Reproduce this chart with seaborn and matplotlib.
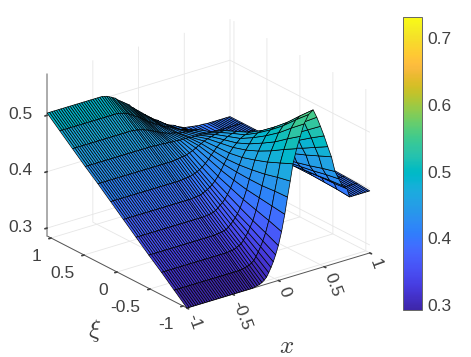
import numpy as np
import matplotlib
matplotlib.use("Agg")
import matplotlib.pyplot as plt
from matplotlib import cm
from matplotlib.colors import Normalize
import seaborn as sns

parula = [
 (0.2422,0.1504,0.6603),(0.2504,0.1650,0.7076),(0.2578,0.1818,0.7511),(0.2647,0.1978,0.7952),
 (0.2706,0.2147,0.8364),(0.2751,0.2342,0.8710),(0.2783,0.2559,0.8991),(0.2803,0.2782,0.9221),
 (0.2813,0.3006,0.9414),(0.2810,0.3228,0.9579),(0.2795,0.3447,0.9717),(0.2760,0.3667,0.9829),
 (0.2699,0.3892,0.9906),(0.2602,0.4123,0.9952),(0.2440,0.4358,0.9988),(0.2206,0.4603,0.9973),
 (0.1963,0.4847,0.9892),(0.1834,0.5074,0.9798),(0.1786,0.5289,0.9682),(0.1764,0.5499,0.9520),
 (0.1687,0.5703,0.9359),(0.1540,0.5902,0.9218),(0.1460,0.6091,0.9079),(0.1380,0.6276,0.8973),
 (0.1248,0.6459,0.8883),(0.1113,0.6635,0.8763),(0.0952,0.6798,0.8598),(0.0689,0.6948,0.8394),
 (0.0297,0.7082,0.8163),(0.0036,0.7203,0.7917),(0.0067,0.7312,0.7660),(0.0433,0.7411,0.7394),
 (0.0964,0.7500,0.7120),(0.1408,0.7584,0.6842),(0.1717,0.7670,0.6554),(0.1938,0.7758,0.6251),
 (0.2161,0.7843,0.5923),(0.2470,0.7918,0.5567),(0.2906,0.7973,0.5188),(0.3406,0.8008,0.4789),
 (0.3909,0.8029,0.4354),(0.4456,0.8024,0.3909),(0.5044,0.7993,0.3480),(0.5616,0.7942,0.3045),
 (0.6174,0.7876,0.2612),(0.6720,0.7793,0.2227),(0.7242,0.7698,0.1910),(0.7738,0.7598,0.1646),
 (0.8203,0.7498,0.1535),(0.8634,0.7406,0.1596),(0.9035,0.7330,0.1774),(0.9393,0.7288,0.2100),
 (0.9728,0.7298,0.2394),(0.9956,0.7434,0.2371),(0.9970,0.7659,0.2199),(0.9952,0.7893,0.2028),
 (0.9892,0.8136,0.1885),(0.9786,0.8386,0.1766),(0.9676,0.8639,0.1643),(0.9610,0.8890,0.1537),
 (0.9597,0.9135,0.1423),(0.9628,0.9373,0.1265),(0.9691,0.9606,0.1064),(0.9769,0.9839,0.0805)]

xi = [-1.06,-0.867,-0.675,-0.482,-0.289,-0.096,0.096,0.289,0.482,0.675,0.867,1.06]

x_left = [-1.0,-0.975,-0.95,-0.925,-0.9,-0.875,-0.85,-0.825,-0.8,-0.775,-0.75,-0.725,-0.7,
          -0.675,-0.65,-0.625,-0.6,-0.575,-0.55,-0.525,-0.5,-0.475,-0.45,-0.425,-0.4]
x_mid = [-0.375,-0.35,-0.325,-0.30,-0.28,-0.255,-0.23,-0.205,-0.18,-0.155,-0.13,-0.105,-0.08,-0.055,-0.03,0.0,
         0.035,0.07,0.10,0.13,0.16,0.20,0.24,0.28,0.33,0.38,0.42,0.46,0.50,0.54,0.58,0.62,0.66,0.70,0.75]
x_right = [0.78,0.805,0.83,0.855,0.88,0.905,0.93,0.955,0.98,1.0]

z_left = [0.286,0.306,0.326,0.345,0.365,0.385,0.405,0.425,0.444,0.464,0.484,0.504]
z_right = [0.396,0.398,0.399,0.400,0.400,0.400,0.400,0.400,0.400,0.400,0.400,0.400]
z_mid = [
 [.286,.286,.286,.286,.286,.287,.288,.289,.291,.294,.298,.305,.313,.322,.333,.348,.371,.400,.429,.456,.485,.510,.530,.550,.564,.570,.555,.537,.518,.497,.477,.449,.434,.420,.412],
 [.306,.306,.306,.306,.306,.307,.308,.309,.310,.313,.316,.322,.329,.337,.346,.359,.379,.403,.428,.451,.475,.497,.514,.531,.543,.548,.535,.519,.503,.484,.467,.443,.430,.418,.410],
 [.326,.326,.326,.326,.326,.327,.327,.328,.330,.332,.334,.339,.345,.351,.359,.369,.386,.406,.426,.445,.465,.483,.497,.511,.521,.525,.514,.501,.487,.471,.457,.436,.425,.415,.409],
 [.345,.345,.345,.345,.345,.346,.346,.347,.348,.349,.352,.356,.360,.365,.371,.380,.393,.409,.426,.441,.457,.471,.483,.494,.502,.505,.496,.485,.473,.460,.448,.430,.421,.413,.407],
 [.365,.365,.365,.365,.365,.365,.366,.366,.367,.368,.370,.373,.377,.380,.385,.392,.402,.414,.427,.438,.450,.461,.470,.479,.485,.487,.479,.470,.460,.450,.439,.425,.417,.410,.406],
 [.385,.385,.385,.385,.385,.385,.386,.386,.387,.387,.389,.391,.393,.396,.399,.404,.411,.420,.429,.437,.446,.454,.460,.466,.470,.472,.466,.458,.450,.441,.433,.421,.414,.409,.405],
 [.405,.405,.405,.405,.405,.405,.405,.406,.406,.407,.407,.409,.410,.412,.414,.417,.422,.428,.434,.439,.445,.450,.454,.458,.461,.462,.456,.450,.443,.435,.428,.418,.412,.407,.404],
 [.425,.425,.425,.425,.425,.425,.425,.425,.425,.426,.426,.427,.428,.428,.429,.431,.433,.436,.439,.441,.444,.446,.448,.450,.451,.452,.447,.442,.436,.430,.424,.415,.410,.406,.404],
 [.444,.444,.444,.444,.444,.444,.443,.443,.443,.443,.442,.442,.442,.441,.441,.441,.440,.440,.440,.440,.439,.439,.439,.439,.438,.438,.432,.425,.419,.413,.409,.405,.403,.402,.401],
 [.464,.464,.463,.463,.462,.461,.460,.458,.457,.455,.453,.451,.449,.447,.445,.443,.441,.439,.438,.437,.435,.434,.433,.432,.431,.430,.424,.418,.412,.408,.405,.403,.402,.401,.400],
 [.484,.483,.482,.481,.480,.478,.475,.473,.470,.468,.465,.462,.459,.456,.453,.450,.446,.443,.440,.437,.435,.432,.429,.425,.421,.419,.414,.410,.406,.404,.403,.402,.401,.401,.400],
 [.503,.502,.500,.498,.496,.494,.490,.487,.484,.481,.478,.475,.470,.467,.463,.459,.454,.449,.445,.441,.437,.433,.428,.423,.418,.415,.411,.408,.405,.404,.403,.402,.401,.401,.400],
]

x_ticks = [-1,-0.5,0,0.5,1]
xi_ticks = [-1,-0.5,0,0.5,1]
z_ticks = [0.3,0.4,0.5]
cbar_ticks = [0.3,0.4,0.5,0.6,0.7]
c_low, c_high = 0.2925, 0.732

sns.set_theme(style="white")
plt.rcParams.update({"font.family":"Liberation Sans","mathtext.fontset":"cm",
    "grid.color":"#e6e6e6","grid.linewidth":0.6,"axes.linewidth":0.6,
    "text.color":"#404040","xtick.color":"#404040","ytick.color":"#404040"})

cmap = sns.blend_palette(parula, n_colors=256, as_cmap=True)
norm = Normalize(c_low, c_high)

x = np.array(x_left + x_mid + x_right)
y = np.array(xi)
zl = np.array(z_left)[:, None]
zr = np.array(z_right)[:, None]
Z = np.hstack([np.tile(zl, (1, len(x_left))), np.array(z_mid), np.tile(zr, (1, len(x_right)))])
X, Y = np.meshgrid(x, y)

W, H, S = 471.0, 357.0, 360.0
fig = plt.figure(figsize=(W/100, H/100), dpi=100)
ax = fig.add_axes([23.6/W, 8.6/H, S/W, S/H], projection="3d", proj_type="ortho")
ax.patch.set_alpha(0)
ax.view_init(elev=23.2, azim=-127.4)
ax.set_box_aspect((230.4, 230.4, 176.2), zoom=0.998)
ax.set_xlim(-1, 1, view_margin=0)
ax.set_ylim(-1.06, 1.06, view_margin=0)
ax.set_zlim(0.286, 0.573, view_margin=0)

ax.plot_surface(X, Y, Z, rstride=1, cstride=1, cmap=cmap, norm=norm,
                edgecolor="#000000", linewidth=0.5, shade=False, antialiased=True)

for axis in (ax.xaxis, ax.yaxis, ax.zaxis):
    axis.set_pane_color((1, 1, 1, 0))
    axis.pane.set_edgecolor((1, 1, 1, 0))
    axis.line.set_color("#555555")
    axis.line.set_linewidth(0.7)
    axis._axinfo["tick"]["inward_factor"] = 0.15
    axis._axinfo["tick"]["outward_factor"] = 0.0
ax.zaxis.line.set_color("#999999")
ax.zaxis.line.set_linewidth(1.1)

ax.set_xticks(x_ticks)
ax.set_yticks(xi_ticks)
ax.set_zticks(z_ticks)
ax.set_xticklabels(["-1","-0.5","0","0.5","1"], rotation=-70, ha="left", va="center",
                   rotation_mode="anchor", fontsize=12.5)
ax.set_yticklabels(["-1","-0.5","0","0.5","1"], ha="right", va="top", fontsize=12.5)
ax.set_zticklabels(["0.3","0.4","0.5"], ha="right", va="center", fontsize=12.5)
ax.tick_params(axis="x", pad=-4)
ax.tick_params(axis="y", pad=-1)
ax.tick_params(axis="z", pad=-2)

fig.text(287/W, 1-346/H, r"$x$", fontsize=18, ha="center", va="center", color="#404040")
fig.text(95/W, 1-331/H, r"$\xi$", fontsize=18, ha="center", va="center", color="#404040")

cax = fig.add_axes([403/W, 1-310/H, 19/W, 293/H])
cb = fig.colorbar(cm.ScalarMappable(norm=norm, cmap=cmap), cax=cax, ticks=cbar_ticks)
cb.ax.tick_params(direction="in", length=2.5, width=0.5, labelsize=12.5, pad=4, color="#404040", right=True)
cb.ax.set_yticklabels(["0.3","0.4","0.5","0.6","0.7"])
cb.outline.set_linewidth(0.7)
cb.outline.set_edgecolor("#666666")

fig.savefig("out.png", dpi=100)
